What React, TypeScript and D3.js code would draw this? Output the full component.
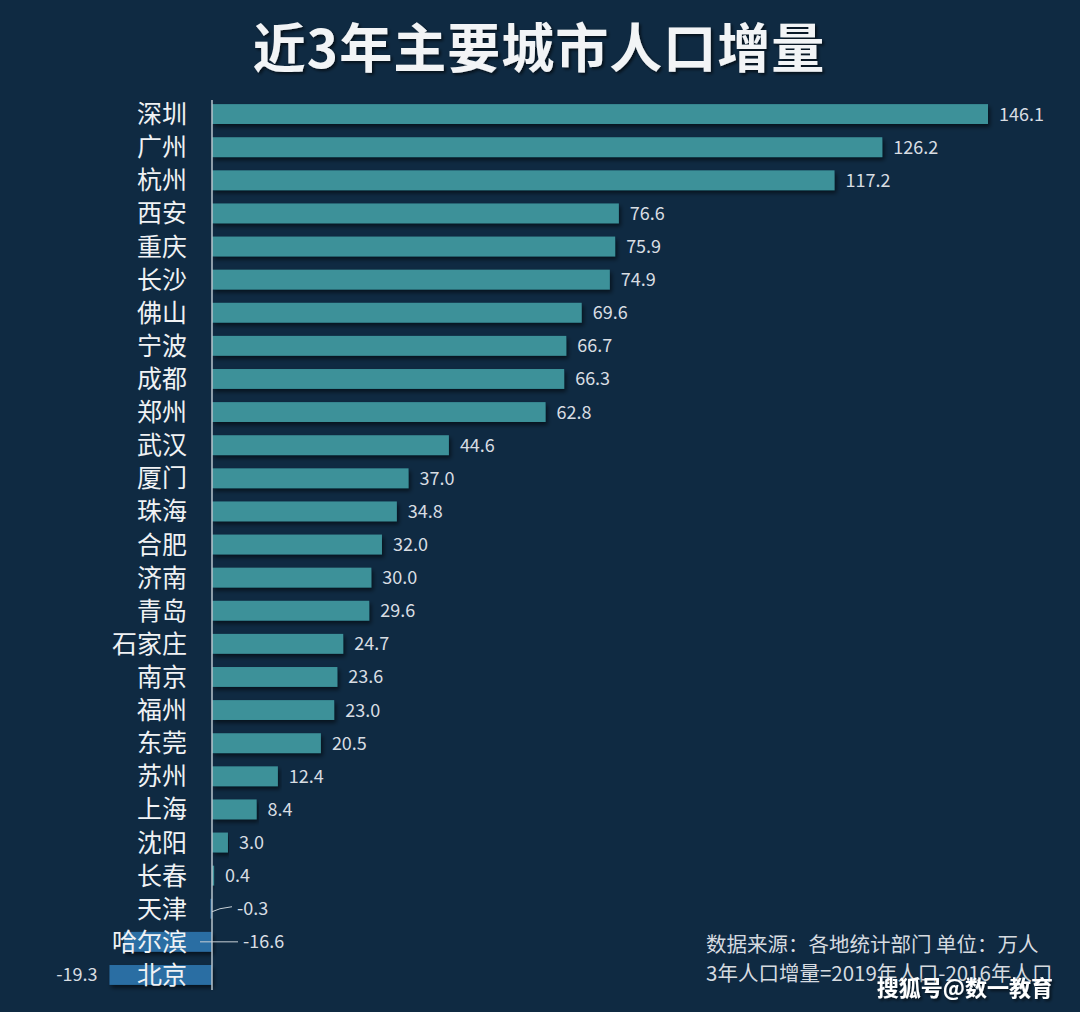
import React from "react";
import * as d3 from "d3";

const cities = ["深圳","广州","杭州","西安","重庆","长沙","佛山","宁波","成都","郑州","武汉","厦门","珠海","合肥","济南","青岛","石家庄","南京","福州","东莞","苏州","上海","沈阳","长春","天津","哈尔滨","北京"];
const values = [146.1,126.2,117.2,76.6,75.9,74.9,69.6,66.7,66.3,62.8,44.6,37.0,34.8,32.0,30.0,29.6,24.7,23.6,23.0,20.5,12.4,8.4,3.0,0.4,-0.3,-16.6,-19.3];
const title = "近3年主要城市人口增量";
const noteLines = ["数据来源：各地统计部门 单位：万人", "3年人口增量=2019年人口-2016年人口"];
const watermark = "搜狐号@数一教育";

const W = 1080, H = 1012;
const FONT = "'Noto Sans CJK SC', 'Noto Sans', sans-serif";

export default function App() {
  const x = d3.scaleLinear().domain([0, 146.1]).range([212, 988]);
  const y = d3.scaleBand<string>().domain(cities).range([97.5, 991.5]).paddingInner(0.4).paddingOuter(0.2);
  const bh = y.bandwidth();
  return (
    <svg width={W} height={H} style={{ position: "absolute", left: 0, top: 0, display: "block" }}>
      <defs>
        <filter id="sh" x="-5%" y="-30%" width="110%" height="180%">
          <feDropShadow dx="2" dy="3" stdDeviation="2" floodColor="#000" floodOpacity="0.55" />
        </filter>
        <filter id="tsh" x="-5%" y="-20%" width="110%" height="150%">
          <feDropShadow dx="2" dy="2" stdDeviation="1.5" floodColor="#000" floodOpacity="0.6" />
        </filter>
      </defs>
      <rect width={W} height={H} fill="#0f2a42" />
      <text x={539} y={68} textAnchor="middle" fill="#f2f4f6" fontSize={53} fontWeight={700} letterSpacing={1} fontFamily={FONT} filter="url(#tsh)">{title}</text>
      {cities.map((c, i) => {
        const v = values[i];
        const y0 = y(c)!;
        const neg = v < 0;
        const x0 = Math.min(x(0), x(v));
        const w = Math.abs(x(v) - x(0));
        return (
          <rect key={c} x={x0} y={y0} width={Math.max(w, 1)} height={bh} fill={neg ? "#2b6ea3" : "#3c9199"} filter="url(#sh)" />
        );
      })}
      <line x1={x(0)} x2={x(0)} y1={100} y2={990} stroke="#b8c4cc" strokeWidth={1.5} />
      {cities.map((c) => {
        const cy = y(c)! + bh / 2;
        return (
          <text key={c + "l"} x={187} y={cy} dy="0.36em" textAnchor="end" fill="#f0f2f4" fontSize={25} fontFamily={FONT}>{c}</text>
        );
      })}
      {cities.map((c, i) => {
        const v = values[i];
        const cy = y(c)! + bh / 2;
        const label = v.toFixed(1);
        const fs = 18;
        if (v >= 0) {
          return <text key={c + "v"} x={x(v) + 11} y={cy} dy="0.36em" fill="#d8dde2" fontSize={fs} fontFamily={FONT}>{label}</text>;
        }
        if (v > -5) {
          return (
            <g key={c + "v"}>
              <path d={`M${x(0)},${cy + 3} L${x(0) + 8},${cy} L${x(0) + 20},${cy - 2}`} fill="none" stroke="#c8d0d6" strokeWidth={1} />
              <text x={x(0) + 25} y={cy} dy="0.36em" fill="#d8dde2" fontSize={fs} fontFamily={FONT}>{label}</text>
            </g>
          );
        }
        if (c === "哈尔滨") {
          return (
            <g key={c + "v"}>
              <line x1={x(0) - 12} x2={x(0) + 26} y1={cy} y2={cy} stroke="#c8d0d6" strokeWidth={1} />
              <text x={x(0) + 31} y={cy} dy="0.36em" fill="#d8dde2" fontSize={fs} fontFamily={FONT}>{label}</text>
            </g>
          );
        }
        return <text key={c + "v"} x={x(v) - 12} y={cy} dy="0.36em" textAnchor="end" fill="#d8dde2" fontSize={fs} fontFamily={FONT}>{label}</text>;
      })}
      {noteLines.map((t, i) => (
        <text key={t} x={706} y={952 + i * 29} fill="#d6dbe0" fontSize={20.5} fontFamily={FONT}>{t}</text>
      ))}
      <text x={1053} y={996} textAnchor="end" fill="#ffffff" fontSize={22} fontWeight={700} fontFamily={FONT} filter="url(#tsh)">{watermark}</text>
    </svg>
  );
}
